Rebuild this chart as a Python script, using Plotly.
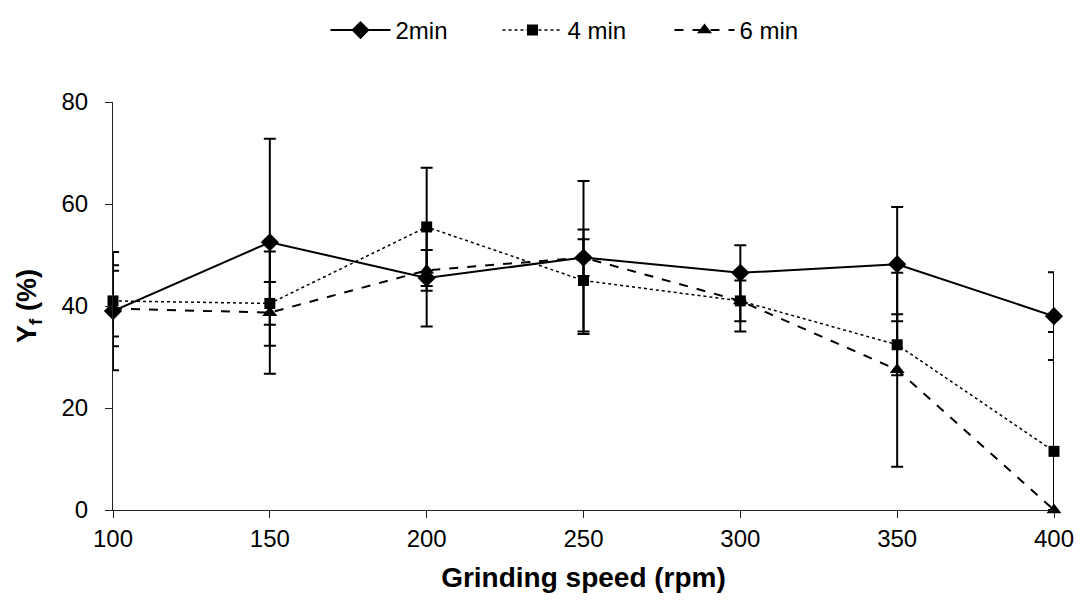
import plotly.graph_objects as go

speeds = [100, 150, 200, 250, 300, 350, 400]

y_2min = [39.0, 52.5, 45.5, 49.5, 46.5, 48.2, 38.0]
err_2min = [11.6, 20.3, 9.5, 3.6, 5.4, 11.2, 8.6]

y_4min = [41.0, 40.5, 55.5, 45.0, 41.0, 32.4, 11.5]
err_4min_up = [7.0, 4.2, 11.6, 10.0, 6.0, 6.0, 23.4]
err_4min_down = [7.0, 4.2, 11.6, 10.0, 6.0, 6.0, 11.5]  # lower bar clipped at axis

y_6min = [39.5, 38.7, 47.0, 49.5, 41.0, 27.5, 0.0]
err_6min = [7.4, 12.0, 4.0, 15.0, 4.0, 19.0, 0.0]

x_ticks = [100, 150, 200, 250, 300, 350, 400]
y_ticks = [0, 20, 40, 60, 80]

font_family = "Liberation Sans, Arial, sans-serif"

fig = go.Figure()

series = [
    ("2min", y_2min, err_2min, err_2min, "solid", 2, "diamond", 14),
    ("4 min", y_4min, err_4min_up, err_4min_down, "dot", 1.5, "square", 11),
    ("6 min", y_6min, err_6min, err_6min, "dash", 2, "triangle-up", 13),
]

for name, ys, eup, edn, dash, lw, sym, ms in series:
    fig.add_trace(go.Scatter(
        x=speeds, y=ys, name=name, mode="lines+markers",
        line=dict(color="black", width=lw, dash=dash),
        marker=dict(symbol=sym, size=ms, color="black"),
        error_y=dict(type="data", symmetric=False, array=eup, arrayminus=edn,
                     visible=True, color="black", thickness=2, width=6),
        cliponaxis=False,
    ))

fig.update_layout(
    width=1078, height=592,
    paper_bgcolor="white", plot_bgcolor="white",
    margin=dict(l=105, r=27, t=94, b=88),
    font=dict(family=font_family, size=24, color="black"),
    showlegend=True,
    legend=dict(orientation="h", x=0.5, xanchor="center", y=1.0,
                yref="container", yanchor="top",
                font=dict(size=24), itemwidth=60,
                entrywidth=97, entrywidthmode="pixels",
                bgcolor="rgba(0,0,0,0)"),
    xaxis=dict(range=[100, 400], tickvals=x_ticks,
               showgrid=False, zeroline=False,
               showline=True, linecolor="#222", linewidth=1.2,
               ticks="outside", ticklen=7, tickcolor="#222",
               ticklabeloverflow="allow",
               tickfont=dict(size=24),
               title=dict(text="<b>Grinding speed (rpm)</b>",
                          font=dict(size=28), standoff=16)),
    yaxis=dict(range=[0, 80], tickvals=y_ticks,
               showgrid=False, zeroline=False,
               showline=True, linecolor="#222", linewidth=1.2,
               ticks="outside", ticklen=7, tickcolor="#222",
               ticklabelstandoff=12,
               tickfont=dict(size=24),
               title=dict(text="<b>Y<sub>f</sub> (%)</b>",
                          font=dict(size=27), standoff=16)),
)

fig.write_html("out.html")
